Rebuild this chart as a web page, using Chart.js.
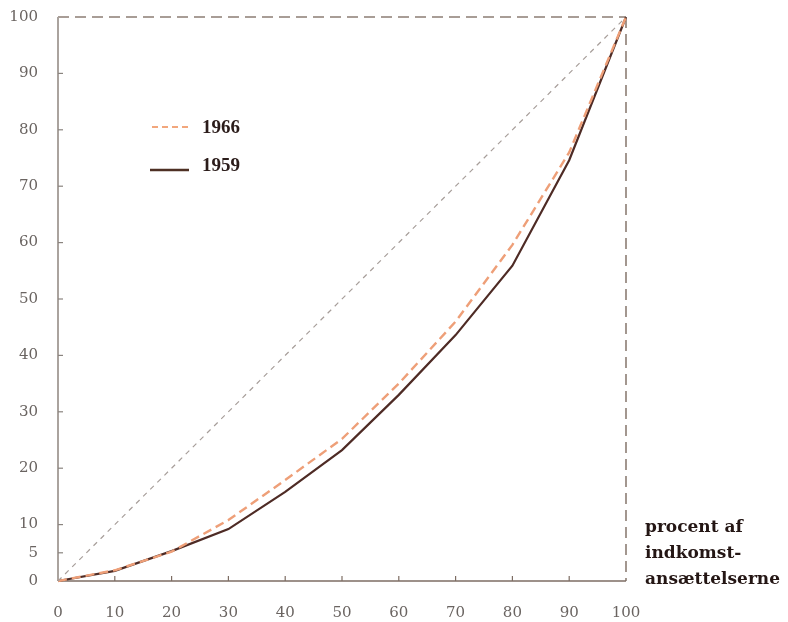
<!DOCTYPE html>
<html>
<head>
<meta charset="utf-8">
<script src="https://cdn.jsdelivr.net/npm/chart.js@4/dist/chart.umd.min.js"></script>
<style>
  body { margin: 0; background: #fff; }
  #wrap { width: 788px; height: 622px; position: relative; }
</style>
</head>
<body>
<div id="wrap"><canvas id="lorenz"></canvas></div>
<script>
// procent af indkomstansættelserne (x) / procent af indkomst (y)
var pct = [0, 10, 20, 30, 40, 50, 60, 70, 80, 90, 100];
var share1959 = [0, 1.8, 5.3, 9.2, 15.8, 23.2, 33, 43.6, 55.9, 74.6, 100];
var share1966 = [0, 1.9, 5.2, 10.8, 17.9, 25.2, 35, 46, 59.6, 76, 100];
var equality = [0, 100];
var xTicks = [0, 10, 20, 30, 40, 50, 60, 70, 80, 90, 100];
var yTicks = [0, 5, 10, 20, 30, 40, 50, 60, 70, 80, 90, 100];
var seriesNames = ['1966', '1959'];
var axisTitle = ['procent af', 'indkomst-', 'ansættelserne'];

function pts(xs, ys) {
    return xs.map(function (x, i) { return { x: x, y: ys[i] }; });
}

// frame, inward tick marks, legend and right-hand caption
var decor = {
    id: 'decor',
    beforeDatasetsDraw: function (chart) {
        var ctx = chart.ctx, a = chart.chartArea;
        var xs = chart.scales.x, ys = chart.scales.y;
        ctx.save();
        // dashed top and right edges
        ctx.strokeStyle = '#8c7d74';
        ctx.lineWidth = 1.6;
        ctx.setLineDash([11, 6]);
        ctx.beginPath();
        ctx.moveTo(a.left, a.top); ctx.lineTo(a.right, a.top);
        ctx.moveTo(a.right, a.top); ctx.lineTo(a.right, a.bottom);
        ctx.stroke();
        ctx.setLineDash([]);
        // left axis
        ctx.strokeStyle = '#aaa39e';
        ctx.lineWidth = 2;
        ctx.beginPath();
        ctx.moveTo(a.left, a.top); ctx.lineTo(a.left, a.bottom);
        ctx.stroke();
        // bottom axis
        ctx.strokeStyle = '#7d6d63';
        ctx.lineWidth = 1.6;
        ctx.beginPath();
        ctx.moveTo(a.left, a.bottom); ctx.lineTo(a.right, a.bottom);
        ctx.stroke();
        // tick marks pointing inward
        ctx.lineWidth = 1.2;
        ctx.strokeStyle = '#7d6d63';
        xTicks.slice(1, -1).forEach(function (v) {
            var px = xs.getPixelForValue(v);
            ctx.beginPath(); ctx.moveTo(px, a.bottom); ctx.lineTo(px, a.bottom - 5); ctx.stroke();
        });
        ctx.strokeStyle = '#8a847f';
        yTicks.slice(1, -1).forEach(function (v) {
            var py = ys.getPixelForValue(v);
            ctx.beginPath(); ctx.moveTo(a.left, py); ctx.lineTo(a.left + 5, py); ctx.stroke();
        });
        ctx.restore();
    },
    afterDraw: function (chart) {
        var ctx = chart.ctx, a = chart.chartArea;
        ctx.save();
        // legend
        ctx.lineWidth = 2;
        ctx.strokeStyle = '#f2a77c';
        ctx.setLineDash([6, 4]);
        ctx.beginPath(); ctx.moveTo(152, 127); ctx.lineTo(191, 127); ctx.stroke();
        ctx.setLineDash([]);
        ctx.lineWidth = 2.6;
        ctx.strokeStyle = '#4e3024';
        ctx.beginPath(); ctx.moveTo(150, 170); ctx.lineTo(189, 170); ctx.stroke();
        ctx.fillStyle = '#2b1c1a';
        ctx.font = 'bold 19px "Liberation Serif"';
        ctx.textBaseline = 'middle';
        ctx.fillText(seriesNames[0], 202, 128);
        ctx.fillText(seriesNames[1], 202, 166);
        // caption beside the x axis
        ctx.font = 'bold 17px "DejaVu Serif"';
        ctx.fillStyle = '#241614';
        axisTitle.forEach(function (t, i) {
            ctx.fillText(t, a.right + 19, 528 + i * 26);
        });
        ctx.restore();
    }
};

var tickFont = { family: '"DejaVu Serif"', size: 15 };

var ctx = document.getElementById('lorenz').getContext('2d');
var myLorenzChart = new Chart(ctx, {
    type: 'line',
    data: {
        datasets: [
            { data: pts(equality, equality), borderColor: '#a79e9a', borderWidth: 1.2, borderDash: [5, 5], pointRadius: 0 },
            { data: pts(pct, share1966), borderColor: '#ee9f78', borderWidth: 2.4, borderDash: [9, 5], pointRadius: 0 },
            { data: pts(pct, share1959), borderColor: '#4e2b25', borderWidth: 2.2, pointRadius: 0 }
        ]
    },
    options: {
        responsive: true,
        maintainAspectRatio: false,
        animation: false,
        clip: false,
        layout: { padding: { top: 17, right: 162, left: 0, bottom: 0 } },
        plugins: { legend: { display: false }, tooltip: { enabled: false } },
        scales: {
            x: {
                type: 'linear', min: 0, max: 100,
                afterFit: function (s) { s.height = 41; s.paddingLeft = 0; s.paddingRight = 0; },
                afterBuildTicks: function (s) { s.ticks = xTicks.map(function (v) { return { value: v }; }); },
                grid: { display: false, drawTicks: false },
                border: { display: false },
                ticks: { padding: 23, color: '#6a6461', font: tickFont, maxRotation: 0 }
            },
            y: {
                type: 'linear', min: 0, max: 100,
                afterFit: function (s) { s.width = 58; s.paddingTop = 0; s.paddingBottom = 0; },
                afterBuildTicks: function (s) { s.ticks = yTicks.map(function (v) { return { value: v }; }); },
                grid: { display: false, drawTicks: false },
                border: { display: false },
                ticks: { padding: 20, color: '#6a6461', font: tickFont }
            }
        }
    },
    plugins: [decor]
});
</script>
</body>
</html>
